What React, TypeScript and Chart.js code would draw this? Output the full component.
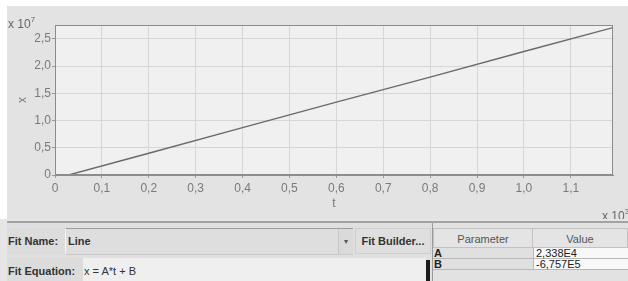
import React, { useEffect, useRef } from "react";
import { Chart, registerables } from "chart.js";

Chart.register(...registerables);

// t in units of 10^3, x in units of 10^7
const tValues = [0.029, 0.2, 0.4, 0.6, 0.8, 1.0, 1.19];
const xValues = [0.0, 0.40, 0.87, 1.34, 1.80, 2.27, 2.71];
const xAxisLabel = "t";
const yAxisLabel = "x";
const yExponent = "7";
const xExponent = "3";
const paramNames = ["A", "B"];
const paramValues = ["2,338E4", "-6,757E5"];
const fitName = "Line";
const fitEquation = "x = A*t + B";

const FONT = "'Liberation Sans', Arial, sans-serif";

const fmt = (v: number) => (Math.abs(v) < 1e-9 ? "0" : v.toFixed(1).replace(".", ","));

const plotDecor = {
  id: "plotDecor",
  beforeDraw(chart: any) {
    const { ctx, chartArea: a } = chart;
    ctx.save();
    ctx.fillStyle = "#f0f0f0";
    ctx.fillRect(a.left, a.top, a.right - a.left, a.bottom - a.top);
    ctx.restore();
  },
  afterDraw(chart: any) {
    const { ctx, chartArea: a } = chart;
    ctx.save();
    ctx.strokeStyle = "#8c8c8c";
    ctx.lineWidth = 1;
    ctx.strokeRect(a.left + 0.5, a.top + 0.5, a.right - a.left - 1, a.bottom - a.top - 1);
    ctx.restore();
  },
};

function ChartView() {
  const ref = useRef<HTMLCanvasElement | null>(null);
  useEffect(() => {
    if (!ref.current) return;
    const chart = new Chart(ref.current, {
      type: "line",
      data: {
        datasets: [
          {
            data: tValues.map((t, i) => ({ x: t, y: xValues[i] })),
            borderColor: "#6a6a6a",
            borderWidth: 1.4,
            pointRadius: 0,
            tension: 0,
          },
        ],
      },
      options: {
        responsive: false,
        animation: false,
        devicePixelRatio: 1,
        layout: { padding: { top: 19, right: 15, left: 0, bottom: 0 } },
        plugins: { legend: { display: false }, tooltip: { enabled: false } },
        scales: {
          x: {
            type: "linear",
            min: 0,
            max: 1.19,
            ticks: {
              stepSize: 0.1,
              includeBounds: false,
              autoSkip: false,
              maxRotation: 0,
              color: "#7a7a7a",
              font: { family: FONT, size: 12 },
              padding: 3,
              callback: (v: any) => fmt(Number(v)),
            },
            grid: { color: "#d6d6d6", tickLength: 3, tickColor: "#9a9a9a" },
            border: { display: true, color: "#8c8c8c" },
            title: {
              display: true,
              text: xAxisLabel,
              color: "#777777",
              font: { family: FONT, size: 12 },
              padding: { top: 0, bottom: 8 },
            },
            afterFit: (s: any) => {
              s.height = 44;
            },
          },
          y: {
            type: "linear",
            min: 0,
            max: 2.757,
            ticks: {
              stepSize: 0.5,
              includeBounds: false,
              color: "#7a7a7a",
              font: { family: FONT, size: 12 },
              padding: 1,
              callback: (v: any) => fmt(Number(v)),
            },
            grid: { color: "#d6d6d6", tickLength: 3, tickColor: "#9a9a9a" },
            border: { display: true, color: "#8c8c8c" },
            title: {
              display: true,
              text: yAxisLabel,
              color: "#777777",
              font: { family: FONT, size: 12 },
              padding: { top: 8, bottom: 0 },
            },
            afterFit: (s: any) => {
              s.width = 48;
            },
          },
        },
      },
      plugins: [plotDecor],
    } as any);
    return () => chart.destroy();
  }, []);
  return <canvas ref={ref} width={621} height={213} style={{ display: "block" }} />;
}

const abs = (left: number, top: number, width: number, height: number, extra: any = {}) => ({
  position: "absolute" as const,
  left,
  top,
  width,
  height,
  boxSizing: "border-box" as const,
  ...extra,
});

export default function App() {
  const bold = { fontFamily: FONT, fontSize: 11, fontWeight: "bold", color: "#333" };
  const norm = { fontFamily: FONT, fontSize: 11, color: "#333" };
  return (
    <div
      style={{
        position: "fixed",
        left: 0,
        top: 0,
        width: 628,
        height: 281,
        background: "#ffffff",
        overflow: "hidden",
      }}
    >
      <div style={abs(7, 6, 621, 213, { background: "#e3e3e3" })}>
        <ChartView />
      </div>
      <div style={abs(8, 13, 40, 14, { ...norm, color: "#666", fontSize: 12, lineHeight: "14px" })}>
        x 10<sup style={{ fontSize: 8, verticalAlign: "6px" }}>{yExponent}</sup>
      </div>
      <div style={abs(602, 205, 40, 14, { ...norm, color: "#666", fontSize: 12, lineHeight: "14px" })}>
        x 10<sup style={{ fontSize: 8, verticalAlign: "6px" }}>{xExponent}</sup>
      </div>

      {/* fit panel */}
      <div style={abs(0, 219, 628, 62, { background: "#e6e6e6" })} />
      <div style={abs(7, 221, 621, 2, { background: "#a3a3a3" })} />
      <div style={abs(7, 223, 621, 58, { background: "#e0e0e0" })} />

      <div style={abs(7, 228, 58, 27, { ...bold, background: "#dcdcdc", lineHeight: "27px", paddingLeft: 1 })}>
        Fit Name:
      </div>
      <div
        style={abs(65, 228, 288, 27, {
          ...bold,
          background: "#dedede",
          borderTop: "1px solid #9c9c9c",
          borderLeft: "1px solid #f4f4f4",
          borderBottom: "1px solid #c8c8c8",
          lineHeight: "25px",
          paddingLeft: 2,
        })}
      >
        {fitName}
      </div>
      <div
        style={abs(338, 229, 15, 25, {
          background: "#dadada",
          borderLeft: "1px solid #c4c4c4",
          fontFamily: FONT,
          fontSize: 8,
          color: "#555",
          textAlign: "center",
          lineHeight: "25px",
        })}
      >
        ▾
      </div>
      <div
        style={abs(355, 228, 76, 26, {
          ...bold,
          background: "#dfdfdf",
          border: "1px solid #cfcfcf",
          textAlign: "center",
          lineHeight: "24px",
        })}
      >
        Fit Builder...
      </div>

      <div style={abs(7, 258, 76, 23, { ...bold, background: "#dcdcdc", lineHeight: "26px", paddingLeft: 1 })}>
        Fit Equation:
      </div>
      <div style={abs(83, 258, 343, 23, { ...norm, background: "#efefef", lineHeight: "26px", paddingLeft: 1 })}>
        {fitEquation}
      </div>
      <div style={abs(426, 260, 4, 21, { background: "#1c1c1c" })} />

      {/* table */}
      <div style={abs(432, 223, 196, 58, { background: "#e2e2e2", borderLeft: "1px solid #9a9a9a" })} />
      <div
        style={abs(433, 228, 100, 20, {
          ...norm,
          color: "#555",
          textAlign: "center",
          lineHeight: "20px",
          background: "#e4e4e4",
          border: "1px solid #c2c2c2",
        })}
      >
        Parameter
      </div>
      <div
        style={abs(533, 228, 95, 20, {
          ...norm,
          color: "#555",
          textAlign: "center",
          lineHeight: "20px",
          background: "#e4e4e4",
          border: "1px solid #c2c2c2",
          borderLeft: "none",
        })}
      >
        Value
      </div>
      {paramNames.map((p, i) => (
        <React.Fragment key={p}>
          <div
            style={abs(433, 248 + i * 11, 100, 11, {
              ...bold,
              color: "#222",
              lineHeight: "11px",
              paddingLeft: 1,
              background: "#e0e0e0",
              borderBottom: "1px solid #b8b8b8",
            })}
          >
            {p}
          </div>
          <div
            style={abs(533, 248 + i * 11, 95, 11, {
              ...norm,
              color: "#222",
              lineHeight: "11px",
              paddingLeft: 2,
              background: "#f8f8f8",
              borderBottom: "1px solid #b8b8b8",
              borderLeft: "1px solid #b8b8b8",
            })}
          >
            {paramValues[i]}
          </div>
        </React.Fragment>
      ))}
    </div>
  );
}
